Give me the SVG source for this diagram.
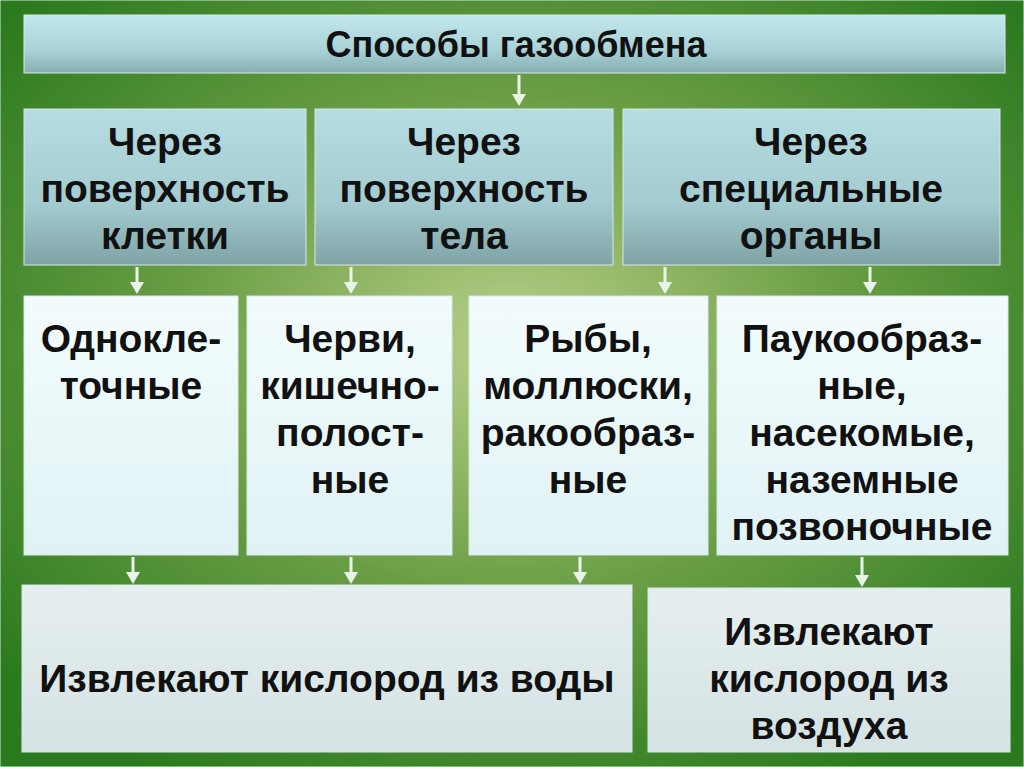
<svg xmlns="http://www.w3.org/2000/svg" width="1024" height="767" viewBox="0 0 1024 767">
<defs>
<radialGradient id="bg" cx="0.5" cy="0.45" r="0.65">
<stop offset="0" stop-color="#b9d08a"/><stop offset="0.5" stop-color="#6a9e45"/><stop offset="1" stop-color="#2c7a1f"/>
</radialGradient>
<linearGradient id="hd" x1="0" y1="0" x2="0" y2="1">
<stop offset="0" stop-color="#c2e8ec"/><stop offset="0.6" stop-color="#a9d3d8"/><stop offset="1" stop-color="#86aeb2"/>
</linearGradient>
<linearGradient id="mid" x1="0" y1="0" x2="0" y2="1">
<stop offset="0" stop-color="#b5dde2"/><stop offset="0.6" stop-color="#a4ccd0"/><stop offset="1" stop-color="#7fa3a6"/>
</linearGradient>
<linearGradient id="lt" x1="0" y1="0" x2="0" y2="1">
<stop offset="0" stop-color="#f3fcfd"/><stop offset="1" stop-color="#e0f2f4"/>
</linearGradient>
<linearGradient id="bt" x1="0" y1="0" x2="0" y2="1">
<stop offset="0" stop-color="#e6efef"/><stop offset="1" stop-color="#d4e2e3"/>
</linearGradient>
</defs>
<style>
text{font-family:"Liberation Sans",Arial,sans-serif;font-weight:bold;fill:#111;text-anchor:middle}
.t{font-size:39px}
.c line{stroke:#e8f4e8;stroke-width:3}
.c path{fill:#e8f4e8}
rect{stroke:#d8e8e8;stroke-width:1}
</style>
<rect x="0" y="0" width="1024" height="767" fill="url(#bg)" stroke="none"/>
<g id="title"><rect x="24" y="15" width="981" height="58" fill="url(#hd)"/><text x="516" y="57" font-size="36">Способы газообмена</text></g>
<g id="n1"><rect x="24" y="109" width="282" height="156" fill="url(#mid)"/><text class="t" x="165" y="155">Через</text><text class="t" x="165" y="202">поверхность</text><text class="t" x="165" y="249">клетки</text></g>
<g id="n2"><rect x="315" y="109" width="298" height="156" fill="url(#mid)"/><text class="t" x="464" y="155">Через</text><text class="t" x="464" y="202">поверхность</text><text class="t" x="464" y="249">тела</text></g>
<g id="n3"><rect x="623" y="109" width="377" height="156" fill="url(#mid)"/><text class="t" x="811" y="155">Через</text><text class="t" x="811" y="202">специальные</text><text class="t" x="811" y="249">органы</text></g>
<g id="n4"><rect x="24" y="296" width="214" height="259" fill="url(#lt)"/><text class="t" x="131" y="352">Однокле-</text><text class="t" x="131" y="399">точные</text></g>
<g id="n5"><rect x="247" y="296" width="205" height="259" fill="url(#lt)"/><text class="t" x="350" y="352">Черви,</text><text class="t" x="350" y="399">кишечно-</text><text class="t" x="350" y="446">полост-</text><text class="t" x="350" y="493">ные</text></g>
<g id="n6"><rect x="469" y="296" width="239" height="259" fill="url(#lt)"/><text class="t" x="588" y="352">Рыбы,</text><text class="t" x="588" y="399">моллюски,</text><text class="t" x="588" y="446">ракообраз-</text><text class="t" x="588" y="493">ные</text></g>
<g id="n7"><rect x="717" y="296" width="291" height="259" fill="url(#lt)"/><text class="t" x="862" y="352">Паукообраз-</text><text class="t" x="862" y="399">ные,</text><text class="t" x="862" y="446">насекомые,</text><text class="t" x="862" y="493">наземные</text><text class="t" x="862" y="540">позвоночные</text></g>
<g id="n8"><rect x="22" y="585" width="610" height="167" fill="url(#bt)"/><text class="t" x="327" y="692">Извлекают кислород из воды</text></g>
<g id="n9"><rect x="648" y="588" width="362" height="164" fill="url(#bt)"/><text class="t" x="829" y="645">Извлекают</text><text class="t" x="829" y="692">кислород из</text><text class="t" x="829" y="739">воздуха</text></g>
<g id="connectors" class="c">
<line x1="519" y1="75" x2="519" y2="96"/><path d="M512,94 L526,94 L519,106 z"/>
<line x1="137" y1="267" x2="137" y2="284"/><path d="M130,282 L144,282 L137,294 z"/>
<line x1="351" y1="267" x2="351" y2="284"/><path d="M344,282 L358,282 L351,294 z"/>
<line x1="665" y1="267" x2="665" y2="284"/><path d="M658,282 L672,282 L665,294 z"/>
<line x1="870" y1="267" x2="870" y2="284"/><path d="M863,282 L877,282 L870,294 z"/>
<line x1="133" y1="557" x2="133" y2="574"/><path d="M126,572 L140,572 L133,584 z"/>
<line x1="351" y1="557" x2="351" y2="574"/><path d="M344,572 L358,572 L351,584 z"/>
<line x1="580" y1="557" x2="580" y2="574"/><path d="M573,572 L587,572 L580,584 z"/>
<line x1="862" y1="557" x2="862" y2="577"/><path d="M855,575 L869,575 L862,587 z"/>
</g>
</svg>
